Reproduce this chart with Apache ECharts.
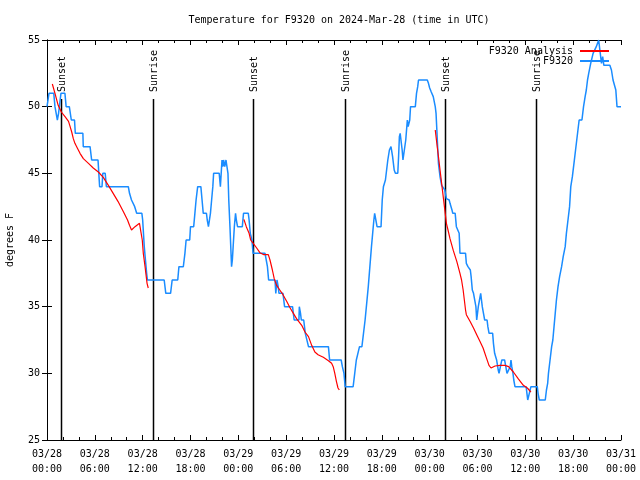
<!DOCTYPE html>
<html><head><meta charset="utf-8">
<script src="https://cdn.jsdelivr.net/npm/echarts@6/dist/echarts.min.js"></script>
<style>html,body{margin:0;padding:0;background:#fff}#c{width:640px;height:480px}</style>
</head><body><div id="c"></div>
<script>
// Hours since 2024-03-28 00:00 UTC
const obsHours = [0.0,0.25,0.85,1.0,1.3,1.45,1.75,2.25,2.4,2.8,3.05,3.45,3.55,4.5,4.55,5.4,5.6,6.4,6.5,6.6,6.9,7.0,7.3,7.45,10.2,10.35,10.6,11.0,11.25,11.9,12.0,12.1,12.2,12.35,12.5,12.6,14.7,14.9,15.5,15.7,16.4,16.55,17.1,17.3,17.45,17.9,18.0,18.4,18.55,18.7,18.9,19.3,19.45,19.6,20.0,20.1,20.25,20.35,20.5,20.65,20.8,20.9,21.6,21.75,21.85,21.95,22.05,22.15,22.3,22.45,22.6,22.7,22.8,22.95,23.05,23.15,23.25,23.35,23.5,23.65,23.75,23.9,24.5,24.65,25.25,25.35,25.5,25.7,25.85,27.35,27.5,27.65,27.8,28.6,28.7,28.85,29.0,29.1,29.6,29.8,30.8,31.0,31.6,31.65,31.8,31.9,32.2,32.4,32.8,35.3,35.45,36.9,37.05,37.25,37.4,38.4,38.6,38.8,39.0,39.2,39.5,39.7,39.9,40.1,40.3,40.5,40.7,40.85,41.0,41.1,41.25,41.4,41.9,42.05,42.2,42.45,42.6,42.75,42.95,43.15,43.35,43.55,43.7,44.0,44.1,44.2,44.3,44.4,44.55,44.65,44.9,45.0,45.1,45.2,45.3,45.4,45.5,45.6,46.2,46.35,46.5,46.6,47.7,47.85,48.0,48.2,48.45,48.7,48.8,48.9,49.0,49.1,49.3,49.5,49.7,49.9,50.1,50.45,50.55,50.8,50.9,51.2,51.35,51.6,51.7,51.8,52.5,52.6,52.8,53.1,53.2,53.35,53.5,53.7,53.8,53.9,54.0,54.1,54.25,54.4,54.5,54.6,54.75,54.9,55.2,55.3,55.45,55.9,56.0,56.15,56.4,56.6,56.7,56.9,57.05,57.4,57.55,57.7,57.95,58.1,58.2,58.3,58.45,58.55,58.7,60.1,60.2,60.3,60.5,60.6,60.7,61.5,61.6,61.75,62.5,62.65,62.8,62.9,63.1,63.3,63.45,63.6,63.75,63.9,64.1,64.3,64.55,64.75,65.0,65.15,65.35,65.55,65.7,65.9,66.1,66.3,66.45,66.6,66.75,67.1,67.3,67.5,67.65,67.8,67.95,68.2,68.5,68.7,68.9,69.2,69.35,69.55,69.7,69.85,70.6,70.8,71.0,71.2,71.35,71.5,72.0];
const obsTemps = [50,51,51,50,49,49.5,51,51,50,50,49,49,48,48,47,47,46,46,45,44,44,45,45,44,44,43.5,43,42.5,42,42,41.5,40.5,39.5,38.5,37.5,37,37,36,36,37,37,38,38,39,40,40,41,41,42,43,44,44,43,42,42,41.5,41,41,42,43,44,45,45,44,45,46,45.5,46,45.5,46,46,45,43,41,39.5,38,38.5,39.5,41,42,41.5,41,41,42,42,41.5,40.5,40,39,39,38.5,38,37,37,36,37,36.5,36,36,35,35,34,34,35,34.5,34,34,33,32,32,31,31,30.5,30,29,29,30,31,31.5,32,32,33,34,35.25,36.5,38,39.5,40.5,41.5,42,41.5,41,41,43,44,44.5,45.25,46,46.75,47,46.25,45.25,45,45,46.25,47.75,48,47.5,46.75,46,46,47.5,48.25,49,48.5,48.5,49,50,50,51,51.5,52,52,51.75,51.4,51.1,50.75,50,49.5,48.25,47,45.75,44.75,44.1,44,43.75,43.1,43,42.75,42.25,42,42,41,41,40.5,39,39,38.25,38,37.75,37.25,36.25,36,36,35,34,34.5,35,35.5,36,35.5,35,34.5,34,34,33.5,33,33,32.25,31.5,31,30.25,30,30,31,31,30.5,30,30,30.5,31,30.5,30,29.5,29,29,28.5,28,28.5,28.75,29,29,28.5,28,28,28.75,29.25,30,31,32,32.5,33.5,34.5,35.5,36.5,37.25,38,38.75,39.5,40.5,41.5,42.5,44,44.75,45.75,46.75,47.5,48.25,49,49,50,50.75,51.25,52,52.5,53.25,54,54.1,54.5,55,54.25,53.25,53.75,53.1,53.1,52.75,52,52,51.25,50,50];
// Analysis (null = gap between evening segments)
const anaHours = [0.67,1.0,1.4,1.8,2.26,2.7,2.9,3.1,3.3,3.5,3.8,4.14,4.56,5.2,5.8,6.44,7.06,7.7,8.3,8.9,9.6,10.1,10.35,10.6,11.04,11.6,11.85,11.95,12.08,12.3,12.45,12.55,12.7,
  18,
  24.7,25.0,25.35,25.55,25.8,26.3,26.7,27.2,27.76,27.97,28.27,28.5,28.8,29.2,29.6,30.06,30.5,30.9,31.3,31.95,32.36,32.8,33.2,33.6,34.0,34.66,35.3,35.7,35.9,36.1,36.3,36.5,36.67,
  42,
  48.7,48.9,49.1,49.3,49.5,49.7,49.9,50.1,50.3,50.55,50.97,51.4,51.8,52.0,52.2,52.35,52.5,52.6,53.06,53.5,53.9,54.3,54.7,55.15,55.44,55.7,56.2,56.8,57.45,57.9,58.5,59.1,59.75,60.25,60.7];
const anaTemps = [51.7,51,50.1,49.6,49.25,48.9,48.5,48.1,47.6,47.25,46.9,46.5,46.1,45.75,45.4,45.1,44.7,44.1,43.5,42.9,42.1,41.5,41.1,40.75,41,41.25,41.2,40,39,38,37.25,36.75,36.4,
  null,
  41.55,41,40.5,40,39.8,39.4,39.05,38.9,38.9,38.5,37.75,37.1,36.6,36.25,35.9,35.4,34.9,34.5,34.1,33.6,33.1,32.75,32.1,31.6,31.4,31.2,30.95,30.75,30.5,30,29.4,28.9,28.75,
  null,
  48.25,47.25,46.25,45.25,44.25,43.25,42.25,41.25,40.75,40.1,39.2,38.4,37.5,37,36.25,35.5,34.75,34.4,33.9,33.4,32.9,32.4,31.9,31.1,30.6,30.4,30.55,30.6,30.6,30.5,30.1,29.6,29.1,28.9,28.6];
const eventHours = [1.79,13.33,25.88,37.42,49.96,61.38];
const eventNames = ['Sunset','Sunrise','Sunset','Sunrise','Sunset','Sunrise'];
const startDay = 28;

const FONT = 'DejaVu Sans Mono';
const chart = echarts.init(document.getElementById('c'), null, {renderer:'canvas'});
function fmt(h){
  const d = startDay + Math.floor(h/24);
  const hh = Math.round(h % 24);
  return '03/' + String(d).padStart(2,'0') + '\n' + String(hh).padStart(2,'0') + ':00';
}
const xCommon = {type:'value', min:0, max:72, interval:6,
  axisLine:{show:true, lineStyle:{color:'#000', width:1}},
  axisTick:{show:true, inside:true, length:5, lineStyle:{color:'#000'}},
  minorTick:{show:true, splitNumber:3, length:3, lineStyle:{color:'#000'}},
  splitLine:{show:false}};
const yCommon = {type:'value', min:25, max:55, interval:5,
  axisLine:{show:true, lineStyle:{color:'#000', width:1}},
  axisTick:{show:true, inside:true, length:5, lineStyle:{color:'#000'}},
  splitLine:{show:false}};
chart.setOption({
  animation:false,
  backgroundColor:'#fff',
  title:{text:'Temperature for F9320 on 2024-Mar-28 (time in UTC)', left:334, top:10, textAlign:'center',
    textStyle:{fontFamily:FONT, fontSize:10, fontWeight:'normal', color:'#000'}},
  legend:{orient:'vertical', right:26, top:41, align:'right', itemWidth:29, itemHeight:2, itemGap:0,
    icon:'rect', textStyle:{fontFamily:FONT, fontSize:10, color:'#000', padding:[0,2,0,0]},
    data:['F9320 Analysis','F9320']},
  grid:{left:47, right:19, top:40, bottom:40, containLabel:false, outerBoundsMode:'none'},
  xAxis:[
    Object.assign({}, xCommon, {position:'bottom',
      axisLabel:{show:true, margin:7, fontFamily:FONT, fontSize:10, color:'#000', lineHeight:15, formatter:fmt}}),
    Object.assign({}, xCommon, {position:'top', axisLabel:{show:false}})
  ],
  yAxis:[
    Object.assign({}, yCommon, {position:'left', name:'degrees F', nameLocation:'middle', nameGap:32, nameRotate:90,
      nameTextStyle:{fontFamily:FONT, fontSize:10, color:'#000'},
      axisLabel:{show:true, margin:7, fontFamily:FONT, fontSize:10, color:'#000'}}),
    Object.assign({}, yCommon, {position:'right', axisLabel:{show:false}})
  ],
  series:[
    {type:'custom', name:'events', xAxisIndex:0, yAxisIndex:0, clip:false, silent:true, z:1,
      data: eventHours.map((h,i)=>[h, eventNames[i]]),
      renderItem:function(params, api){
        const h = api.value(0);
        const top = api.coord([h, 55]);
        const bot = api.coord([h, 25]);
        const x = Math.round(top[0]) + 0.5;
        const y1 = top[1] + 59;
        return {type:'group', children:[
          {type:'line', shape:{x1:x, y1:y1, x2:x, y2:bot[1]}, style:{stroke:'#000', lineWidth:1.5}},
          {type:'text', x:x+1, y:y1-7, rotation:Math.PI/2,
            style:{text:eventNames[params.dataIndex], fill:'#000', font:'10px "DejaVu Sans Mono"', align:'left', verticalAlign:'middle'}}
        ]};
      }},
    {type:'line', name:'F9320 Analysis', showSymbol:false, symbol:'none', connectNulls:false, z:3,
      color:'#ff0000', lineStyle:{color:'#ff0000', width:1.2},
      data: anaHours.map((h,i)=>[h, anaTemps[i]])},
    {type:'line', name:'F9320', showSymbol:false, symbol:'none', z:2,
      color:'#1a8cff', lineStyle:{color:'#1a8cff', width:1.5},
      data: obsHours.map((h,i)=>[h, obsTemps[i]])}
  ]
});
</script></body></html>
